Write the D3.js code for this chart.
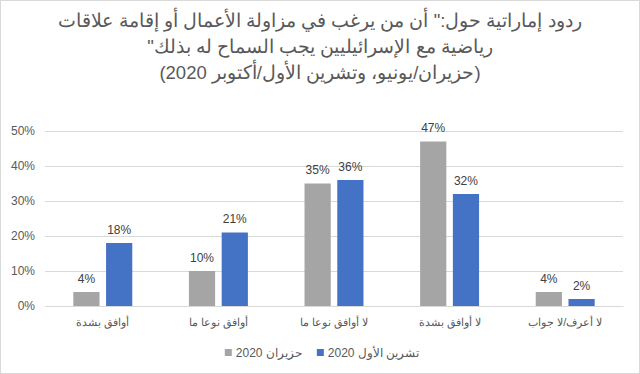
<!DOCTYPE html>
<html><head><meta charset="utf-8">
<script src="https://cdn.jsdelivr.net/npm/d3@7"></script>
<style>
html,body{margin:0;padding:0;background:#fff;}
svg{display:block;font-family:"Liberation Sans",Arial,sans-serif;}
</style></head>
<body>
<svg id="c" width="640" height="374"></svg>
<script>
const titleLines = [
  'ردود إماراتية حول:" أن من يرغب في مزاولة الأعمال أو إقامة علاقات',
  'رياضية مع الإسرائيليين يجب السماح له بذلك"',
  '(حزيران/يونيو، وتشرين الأول/أكتوبر 2020)'
];
const categories = ['أوافق بشدة', 'أوافق نوعا ما', 'لا أوافق نوعا ما', 'لا أوافق بشدة', 'لا أعرف/لا جواب'];
const seriesNames = ['حزيران 2020', 'تشرين الأول 2020'];
const june2020 = [4, 10, 35, 47, 4];
const october2020 = [18, 21, 36, 32, 2];
const seriesColors = ['#a5a5a5', '#4472c4'];
const yTicks = [0, 10, 20, 30, 40, 50];

const svg = d3.select('#c');
const W = 640, H = 374;
const m = {left: 45, right: 17, top: 131, bottom: 68};

svg.append('rect').attr('x', 0.5).attr('y', 0.5).attr('width', W - 1).attr('height', H - 1)
  .attr('fill', '#fff').attr('stroke', '#d9d9d9');

const y = d3.scaleLinear().domain([0, 50]).range([H - m.bottom, m.top]);
const x0 = d3.scaleBand().domain(categories).range([m.left, W - m.right]).paddingInner(0.49).paddingOuter(0.245);
const x1 = d3.scaleBand().domain(seriesNames).range([0, x0.bandwidth()]).paddingInner(0.2);

// gridlines
const yAxis = d3.axisLeft(y).tickValues(yTicks).tickFormat(d => d + '%').tickSize(-(W - m.left - m.right)).tickPadding(10);
const ga = svg.append('g').attr('transform', `translate(${m.left},0)`).call(yAxis);
ga.select('.domain').remove();
ga.selectAll('.tick line').attr('stroke', '#d9d9d9').attr('stroke-width', 1);
ga.selectAll('.tick text').attr('fill', '#595959').attr('font-size', 12).attr('font-family', '"Liberation Sans",Arial,sans-serif');

// bars
const data = categories.map((c, i) => ({cat: c, vals: [june2020[i], october2020[i]]}));
const groups = svg.append('g').selectAll('g').data(data).join('g')
  .attr('transform', d => `translate(${x0(d.cat)},0)`);
groups.selectAll('rect').data(d => d.vals.map((v, j) => ({v, s: seriesNames[j], j})))
  .join('rect')
  .attr('x', d => x1(d.s)).attr('width', x1.bandwidth())
  .attr('y', d => y(d.v)).attr('height', d => y(0) - y(d.v))
  .attr('fill', d => seriesColors[d.j]);
groups.selectAll('text').data(d => d.vals.map((v, j) => ({v, s: seriesNames[j], j})))
  .join('text')
  .attr('x', d => x1(d.s) + x1.bandwidth() / 2).attr('y', d => y(d.v) - 9.5)
  .attr('text-anchor', 'middle').attr('fill', '#404040').attr('font-size', 12)
  .text(d => d.v + '%');

// x axis line
const xAxis = d3.axisBottom(x0).tickSize(0).tickPadding(12);
const gx = svg.append('g').attr('transform', `translate(0,${y(0)})`).call(xAxis);
gx.select('.domain').attr('stroke', '#d9d9d9');
gx.selectAll('.tick text').attr('fill', '#595959').attr('font-size', 11)
  .attr('font-family', '"Liberation Sans",Arial,sans-serif').attr('direction', 'rtl');

// title
svg.append('g').selectAll('text').data(titleLines).join('text')
  .attr('x', 320).attr('y', (d, i) => 27 + i * 26)
  .attr('text-anchor', 'middle').attr('direction', 'rtl')
  .attr('fill', '#595959').attr('font-size', 18.5)
  .text(d => d);

// legend
const lg = svg.append('g');
const legendOrder = [0, 1];
let items = legendOrder.map(j => {
  const g = lg.append('g');
  g.append('rect').attr('width', 7).attr('height', 7).attr('y', -8).attr('fill', seriesColors[j]);
  const t = g.append('text').attr('x', 11).attr('y', 0).attr('fill', '#595959').attr('font-size', 12)
    .attr('direction', 'ltr').text(seriesNames[j]);
  return {g, w: 11 + t.node().getComputedTextLength()};
});
const gapL = 15;
const total = d3.sum(items, d => d.w) + gapL * (items.length - 1);
let lx = 322 - total / 2;
items.forEach(it => { it.g.attr('transform', `translate(${lx},${357})`); lx += it.w + gapL; });
</script>
</body></html>
